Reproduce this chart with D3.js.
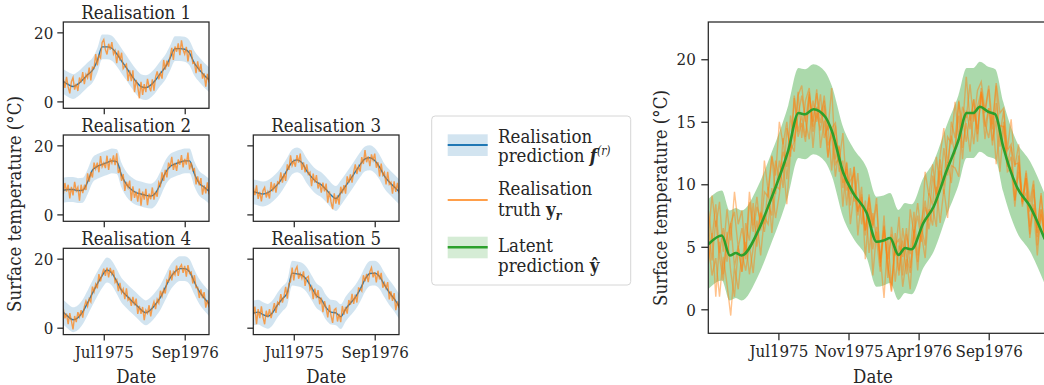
<!DOCTYPE html>
<html>
<head>
<meta charset="utf-8">
<script src="https://cdn.jsdelivr.net/npm/d3@7"></script>
<style>
  body { margin: 0; background: #fff; }
  svg text { font-family: 'DejaVu Serif Condensed', 'DejaVu Serif', serif; font-stretch: condensed; font-size: 18.5px; fill: #262626; }
  svg .tick text { font-size: 16.8px; }
</style>
</head>
<body>
<div id="chart"></div>
<script>
// ---- data (day index from start of the series) ----
const truthDays = d3.range(0, 721, 8);   // observation days, every 8 days
const predDays = d3.range(0, 721, 24);   // prediction mean days, every 24 days

const truth1 = [6.6,3.9,7.1,4.2,2.3,5.7,6.9,3.4,5.1,3.0,6.9,5.5,8.5,5.0,7.8,6.8,9.8,6.1,9.9,9.6,13.7,10.4,13.3,12.6,17.1,17.9,15.0,13.6,16.7,15.0,17.2,13.7,14.7,11.1,14.7,11.8,14.1,9.5,10.3,10.8,5.9,9.0,5.9,9.0,2.7,6.2,4.2,0.9,5.7,1.9,5.0,2.7,6.5,4.3,2.9,6.4,3.1,7.0,8.7,6.4,8.2,6.6,12.0,9.2,11.8,10.1,13.0,15.5,12.0,15.9,14.4,16.8,13.4,17.7,14.9,13.7,15.8,11.6,14.7,14.6,11.0,11.3,8.2,11.6,8.6,10.9,6.6,8.1,4.3,8.0,5.5];
const truth2 = [5.8,9.1,6.6,8.6,4.6,8.0,5.5,9.4,6.8,7.9,4.0,8.6,6.2,8.2,7.1,11.9,9.5,12.3,10.7,15.0,13.2,15.0,12.2,16.9,13.8,14.9,13.4,17.0,12.9,16.2,14.9,17.1,14.3,17.7,12.0,13.1,9.7,11.7,6.8,9.4,7.8,9.8,4.0,8.1,4.8,6.6,3.7,7.5,2.5,6.6,4.3,7.4,2.7,6.0,4.4,7.8,4.3,6.6,5.1,9.3,8.3,12.2,9.7,12.9,10.7,15.0,13.7,16.7,12.9,14.9,12.6,15.9,14.4,17.2,13.6,16.1,14.4,17.9,13.0,15.0,12.7,13.2,8.7,11.0,8.4,10.5,5.7,8.4,6.1,9.3,5.8];
const truth3 = [7.9,5.6,8.4,4.5,6.5,3.8,6.9,7.8,4.9,6.5,4.6,9.4,6.7,9.0,6.3,9.4,9.0,12.2,9.2,11.9,9.7,14.5,12.9,17.1,14.2,15.5,13.8,17.2,15.0,17.6,12.9,15.1,12.2,14.5,11.6,12.2,8.2,11.8,9.2,11.4,7.5,9.2,6.3,9.2,6.7,8.9,3.4,6.7,3.6,1.5,6.1,3.1,5.5,2.8,8.0,6.1,8.5,6.0,11.0,9.1,11.6,9.2,12.3,14.5,11.7,13.9,12.4,16.6,14.6,18.6,15.1,16.8,14.0,17.4,15.7,17.6,13.5,15.1,11.0,14.7,11.4,12.2,8.7,12.3,8.7,9.3,6.0,9.6,6.5,9.1,6.1];
const truth4 = [5.5,2.7,4.1,1.0,4.2,2.0,-0.5,3.4,1.6,4.5,3.1,5.1,2.9,6.1,7.7,6.2,8.4,7.5,11.9,10.4,12.6,11.4,15.5,13.4,15.5,17.1,15.0,17.4,14.6,17.3,15.5,16.7,13.1,13.9,10.6,13.0,10.1,11.2,8.3,11.4,8.0,8.6,6.3,8.9,6.5,8.4,4.0,6.3,4.0,6.0,2.2,5.1,4.2,6.5,3.3,6.0,7.5,5.4,8.2,7.1,10.7,9.1,11.1,9.9,13.8,13.3,16.6,13.7,16.2,15.3,18.0,15.0,17.5,18.2,15.9,17.9,14.8,18.1,15.7,16.1,12.8,15.2,11.6,11.7,8.6,11.1,8.6,10.3,5.8,8.0,5.9];
const truth5 = [3.6,6.1,1.0,5.4,2.8,6.2,3.0,1.0,4.9,3.0,5.4,2.8,4.9,7.1,4.3,7.4,6.8,9.7,7.3,9.2,11.8,8.4,12.7,13.4,17.4,13.7,16.7,17.7,14.2,15.7,14.3,16.3,12.1,14.5,14.9,11.0,11.9,8.3,11.3,8.6,10.9,6.8,8.7,4.5,7.7,5.6,3.0,6.6,3.5,1.4,5.2,5.6,1.8,4.0,1.6,6.3,3.8,6.0,4.1,8.0,6.7,9.8,6.9,9.6,7.3,11.5,11.3,10.6,15.2,13.4,15.6,13.2,16.2,17.4,14.6,16.1,13.1,16.5,14.0,15.9,11.6,13.0,11.4,13.2,8.2,10.5,7.8,10.0,5.1,7.6,5.7];

const pred1 = [5.8,4.9,4.3,5.0,6.3,7.7,9.0,11.8,15.8,15.8,15.4,13.8,11.7,9.7,7.6,5.7,4.3,4.0,4.7,6.2,8.1,9.9,12.6,15.3,15.3,15.1,14.0,11.0,9.2,7.6,6.3];
const pred2 = [7.0,7.2,7.2,6.9,7.0,9.4,12.8,13.9,14.5,15.0,15.5,15.3,11.3,8.7,7.2,6.3,5.9,5.5,5.3,6.2,8.8,12.0,13.9,14.6,15.1,15.5,15.5,11.7,9.0,7.9,6.7];
const pred3 = [6.6,6.2,5.9,6.3,7.3,8.7,10.6,12.9,15.2,15.8,15.0,12.6,10.8,9.4,8.6,7.2,5.6,4.6,6.2,8.2,10.2,12.3,14.4,16.1,16.4,15.6,13.7,11.1,9.4,8.0,6.6];
const pred4 = [4.5,3.2,2.3,2.9,4.6,7.2,10.0,12.7,15.1,16.7,15.8,13.4,10.8,9.3,7.9,6.6,5.2,4.3,5.2,6.8,8.8,11.6,14.4,16.2,17.1,17.1,16.2,13.2,10.5,8.6,7.0];
const pred5 = [4.2,4.5,3.8,3.3,4.4,6.6,8.4,10.1,15.8,15.6,15.2,13.9,11.6,9.3,8.2,5.8,4.5,4.3,3.2,5.4,7.1,8.8,11.1,14.0,15.7,15.8,14.8,12.4,10.2,8.4,6.2];
const predHalfWidth = 3.6; // two standard deviations

const latentDays = [0,29,46,59,71,107,132,171,193,207,225,250,264,289,310,339,360,375,389,407,421,435,460,482,510,535,553,567,581,599,614,631,660,689,720];
const latentMean = [5.2,5.9,4.3,4.5,4.3,6.3,8.6,12.7,15.7,15.6,16.0,15.4,14.3,10.9,9.3,7.7,5.4,5.5,5.7,4.35,4.9,4.8,6.9,8.2,11.1,13.5,15.7,15.7,16.2,15.8,15.6,13.0,9.8,8.2,5.6];
const latentHalfWidth = 3.6;

const truths = [truth1, truth2, truth3, truth4, truth5];
const preds = [pred1, pred2, pred3, pred4, pred5];

const smallTickDays = [200, 600];
const smallTickLabels = ["Jul1975", "Sep1976"];
const bigTickDays = [150, 300, 450, 600];
const bigTickLabels = ["Jul1975", "Nov1975", "Apr1976", "Sep1976"];
const smallYTicks = [0, 20];
const bigYTicks = [0, 5, 10, 15, 20];

const blue = "#1f77b4", orange = "#ff7f0e", green = "#2ca02c", ink = "#262626";

const W = 1044, H = 385;
const svg = d3.select("#chart").append("svg").attr("width", W).attr("height", H);

const smallW = 145.7, smallH = 86.3;
// [left, top, show y labels, show x labels]
const slots = [
  [63.3, 22, true, false],
  [63.3, 135, true, false],
  [253.3, 135, false, false],
  [63.3, 248.3, true, true],
  [253.3, 248.3, false, true]
];

function styleAxis(sel) {
  sel.select(".domain").remove();
  sel.selectAll(".tick line").attr("stroke", ink).attr("stroke-width", 1.25);
}

slots.forEach((s, k) => {
  const [left, top, showY, showX] = s;
  const x = d3.scaleLinear().domain([0, 720]).range([left, left + smallW]);
  const y = d3.scaleLinear().domain([-2, 23]).range([top + smallH, top]);

  svg.append("clipPath").attr("id", "clip" + k).append("rect")
    .attr("x", left).attr("y", top).attr("width", smallW).attr("height", smallH);
  const plot = svg.append("g").attr("clip-path", `url(#clip${k})`);

  plot.append("path").datum(preds[k])
    .attr("fill", blue).attr("fill-opacity", 0.2)
    .attr("d", d3.area().curve(d3.curveMonotoneX)
      .x((d, i) => x(predDays[i]))
      .y0(d => y(d - predHalfWidth))
      .y1(d => y(d + predHalfWidth)));

  plot.append("path").datum(preds[k])
    .attr("fill", "none").attr("stroke", blue).attr("stroke-width", 1.4)
    .attr("d", d3.line().curve(d3.curveMonotoneX).x((d, i) => x(predDays[i])).y(d => y(d)));

  plot.append("path").datum(truths[k])
    .attr("fill", "none").attr("stroke", orange).attr("stroke-width", 1.4).attr("stroke-opacity", 0.72)
    .attr("d", d3.line().x((d, i) => x(truthDays[i])).y(d => y(d)));

  const yAxis = d3.axisLeft(y).tickValues(smallYTicks).tickSize(6).tickPadding(4);
  if (!showY) yAxis.tickFormat("");
  svg.append("g").attr("transform", `translate(${left},0)`).call(yAxis).call(styleAxis)
    .selectAll("text").attr("dy", "0.34em");

  const xAxis = d3.axisBottom(x).tickValues(smallTickDays).tickSize(6).tickPadding(5)
    .tickFormat((d, i) => showX ? smallTickLabels[i] : "");
  svg.append("g").attr("transform", `translate(0,${top + smallH})`).call(xAxis).call(styleAxis);

  svg.append("rect").attr("x", left).attr("y", top).attr("width", smallW).attr("height", smallH)
    .attr("fill", "none").attr("stroke", ink).attr("stroke-width", 1.25);

  svg.append("text").attr("x", left + smallW / 2).attr("y", top - 3.5)
    .attr("text-anchor", "middle").text("Realisation " + (k + 1));

  if (showX) {
    svg.append("text").attr("x", left + smallW / 2).attr("y", 382.5)
      .attr("text-anchor", "middle").text("Date");
  }
});

svg.append("text").attr("transform", "translate(21,204) rotate(-90)")
  .attr("text-anchor", "middle").text("Surface temperature (°C)");

// ---- big latent panel ----
const bLeft = 708.3, bTop = 22, bBottom = 333.3;
const bx = d3.scaleLinear().domain([0, 720]).range([bLeft, bLeft + 336.5]);
const by = d3.scaleLinear().domain([-1.92, 22.98]).range([bBottom, bTop]);

svg.append("clipPath").attr("id", "clipBig").append("rect")
  .attr("x", bLeft).attr("y", bTop).attr("width", 336.5).attr("height", bBottom - bTop);
const big = svg.append("g").attr("clip-path", "url(#clipBig)");

big.append("path").datum(latentMean)
  .attr("fill", green).attr("fill-opacity", 0.4)
  .attr("d", d3.area().curve(d3.curveMonotoneX)
    .x((d, i) => bx(latentDays[i]))
    .y0(d => by(d - latentHalfWidth))
    .y1(d => by(d + latentHalfWidth)));

truths.forEach(t => {
  big.append("path").datum(t)
    .attr("fill", "none").attr("stroke", orange).attr("stroke-width", 1.4).attr("stroke-opacity", 0.48)
    .attr("d", d3.line().x((d, i) => bx(truthDays[i])).y(d => by(d)));
});

big.append("path").datum(latentMean)
  .attr("fill", "none").attr("stroke", green).attr("stroke-width", 2.6)
  .attr("d", d3.line().curve(d3.curveMonotoneX).x((d, i) => bx(latentDays[i])).y(d => by(d)));

svg.append("g").attr("transform", `translate(${bLeft},0)`)
  .call(d3.axisLeft(by).tickValues(bigYTicks).tickSize(7).tickPadding(5.5))
  .call(styleAxis).selectAll("text").attr("dy", "0.34em");

svg.append("g").attr("transform", `translate(0,${bBottom})`)
  .call(d3.axisBottom(bx).tickValues(bigTickDays).tickSize(7).tickPadding(5)
    .tickFormat((d, i) => bigTickLabels[i]))
  .call(styleAxis);

svg.append("rect").attr("x", bLeft).attr("y", bTop).attr("width", 336.5).attr("height", bBottom - bTop)
  .attr("fill", "none").attr("stroke", ink).attr("stroke-width", 1.25);

svg.append("text").attr("x", 873).attr("y", 382.5).attr("text-anchor", "middle").text("Date");
svg.append("text").attr("transform", "translate(667,198) rotate(-90)")
  .attr("text-anchor", "middle").text("Surface temperature (°C)");

// ---- legend ----
const lg = svg.append("g");
lg.append("rect").attr("x", 431.7).attr("y", 116).attr("width", 199).attr("height", 169)
  .attr("rx", 3.5).attr("fill", "#fff").attr("stroke", "#d6d6d6").attr("stroke-width", 1);

lg.append("rect").attr("x", 447.7).attr("y", 134.3).attr("width", 40).attr("height", 21.7)
  .attr("fill", blue).attr("fill-opacity", 0.2);
lg.append("line").attr("x1", 447.7).attr("x2", 487.7).attr("y1", 145).attr("y2", 145)
  .attr("stroke", blue).attr("stroke-width", 2.2);

lg.append("line").attr("x1", 447.7).attr("x2", 487.7).attr("y1", 200).attr("y2", 200)
  .attr("stroke", orange).attr("stroke-width", 2.2).attr("stroke-opacity", 0.75);

lg.append("rect").attr("x", 447.7).attr("y", 236.7).attr("width", 40).attr("height", 21.6)
  .attr("fill", green).attr("fill-opacity", 0.2);
lg.append("line").attr("x1", 447.7).attr("x2", 487.7).attr("y1", 247.3).attr("y2", 247.3)
  .attr("stroke", green).attr("stroke-width", 2.6);

const tx = 498;
lg.append("text").attr("x", tx).attr("y", 142.7).text("Realisation");
const t1 = lg.append("text").attr("x", tx).attr("y", 162.3);
t1.append("tspan").text("prediction ");
t1.append("tspan").attr("font-weight", "bold").attr("font-style", "italic").text("f");
t1.append("tspan").attr("dy", -7).style("font-size", "12px").attr("font-style", "italic").text("(r)");

lg.append("text").attr("x", tx).attr("y", 195).text("Realisation");
const t2 = lg.append("text").attr("x", tx).attr("y", 215.7);
t2.append("tspan").text("truth  ");
t2.append("tspan").attr("font-weight", "bold").text("y");
t2.append("tspan").attr("dy", 4).style("font-size", "12px").attr("font-weight", "bold").attr("font-style", "italic").text("r");

lg.append("text").attr("x", tx).attr("y", 251.7).text("Latent");
const t3 = lg.append("text").attr("x", tx).attr("y", 271.7);
t3.append("tspan").text("prediction ");
t3.append("tspan").attr("font-weight", "bold").text("ŷ");
</script>
</body>
</html>
